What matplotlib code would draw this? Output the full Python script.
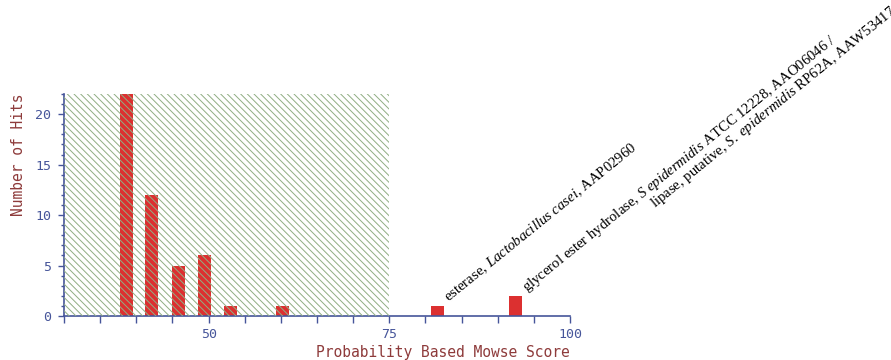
import matplotlib
matplotlib.use("Agg")
import matplotlib.pyplot as plt
from matplotlib.patches import Rectangle
from matplotlib.ticker import MultipleLocator

# histogram of hit scores
score_bins = [38.6, 42.1, 45.8, 49.4, 53.0, 60.2, 81.7, 92.5]
hit_counts = [22, 12, 5, 6, 1, 1, 1, 2]

# significance threshold: scores below it are shaded
threshold = 75

# labelled hits: (score, count, text lines)
labels = [
    (81.7, 1, [r"esterase, $\mathit{Lactobacillus\ casei}$, AAP02960"]),
    (92.5, 2, [r"glycerol ester hydrolase, $\mathit{S\ epidermidis}$ ATCC 12228, AAO06046 /",
               r"lipase, putative, $\mathit{S.\ epidermidis}$ RP62A, AAW53417"]),
]

axis_col = "#46559a"
label_col = "#8e3b3b"
bar_col = "#dc3030"
hatch_col = "#90ae82"

plt.rcParams["mathtext.fontset"] = "custom"
plt.rcParams["mathtext.rm"] = "Liberation Serif"
plt.rcParams["mathtext.it"] = "Liberation Serif:italic"
plt.rcParams["hatch.linewidth"] = 0.7

fig = plt.figure(figsize=(8.91, 3.6), dpi=100)
ax = fig.add_axes([64 / 891, 44 / 360, 506 / 891, 222 / 360])

ax.bar(score_bins, hit_counts, width=1.8, color=bar_col, zorder=2)

# shaded region for non-significant scores, drawn over the bars
ax.add_patch(Rectangle((30, 0), threshold - 30, 22, facecolor="none",
                       edgecolor=hatch_col, linewidth=0, hatch="\\" * 5, zorder=3))

ax.set_xlim(30, 100)
ax.set_ylim(0, 22)

for s in ["top", "right"]:
    ax.spines[s].set_visible(False)
for s in ["left", "bottom"]:
    ax.spines[s].set_color(axis_col)
    ax.spines[s].set_linewidth(1.2)

ax.set_xticks([50, 75, 100])
ax.xaxis.set_minor_locator(MultipleLocator(5))
ax.set_yticks([0, 5, 10, 15, 20])
ax.yaxis.set_minor_locator(MultipleLocator(1))

ax.tick_params(axis="x", which="both", direction="out", length=5, width=1,
               color=axis_col, labelcolor=axis_col, pad=4)
ax.tick_params(axis="y", which="major", direction="out", length=4, width=1,
               color=axis_col, labelcolor=axis_col, pad=5)
ax.tick_params(axis="y", which="minor", direction="out", length=2, width=1,
               color=axis_col)
for t in ax.get_xticklabels() + ax.get_yticklabels():
    t.set_fontfamily("DejaVu Sans Mono")
    t.set_fontsize(9.5)

ax.set_xlabel("Probability Based Mowse Score", family="DejaVu Sans Mono",
              fontsize=10.5, color=label_col, ha="right", va="center")
ax.xaxis.set_label_coords(1.0, -37 / 222)
ax.set_ylabel("Number of Hits", family="DejaVu Sans Mono", fontsize=10.5,
              color=label_col, loc="top")
ax.yaxis.set_label_coords(-38 / 506, 1.0)

# rotated annotations next to the significant hits
line_offsets = [(11, 4), (139, 88)]
for x, y, lines in labels:
    for (dx, dy), txt in zip(line_offsets, lines):
        ax.annotate(txt, xy=(x, y), xytext=(dx, dy), textcoords="offset pixels",
                    rotation=39, rotation_mode="anchor", ha="left", va="baseline",
                    family="Liberation Serif", fontsize=10.6, annotation_clip=False)

fig.savefig("out.png", dpi=100)
